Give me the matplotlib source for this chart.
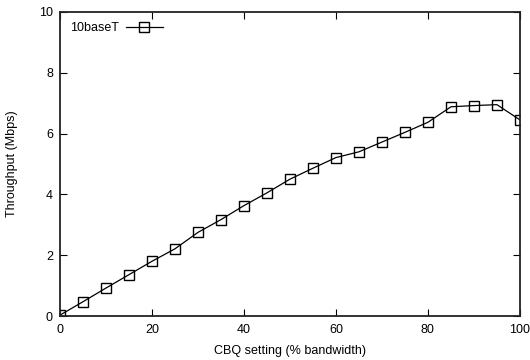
import matplotlib
matplotlib.use("Agg")
import matplotlib.pyplot as plt

# Data
cbq_setting = [0, 5, 10, 15, 20, 25, 30, 35, 40, 45, 50, 55, 60, 65, 70, 75, 80, 85, 90, 95, 100]
throughput = [0.03, 0.47, 0.92, 1.36, 1.80, 2.21, 2.75, 3.17, 3.63, 4.05, 4.50, 4.86, 5.21, 5.40,
              5.72, 6.04, 6.37, 6.88, 6.92, 6.95, 6.45]
series_label = "10baseT"

plt.rcParams['font.family'] = ['Liberation Sans', 'DejaVu Sans']
plt.rcParams['font.size'] = 9

fig = plt.figure(figsize=(5.3, 3.6), dpi=100)
ax = fig.add_axes([0.113, 0.122, 0.868, 0.845])

ax.plot(cbq_setting, throughput, color='black', linewidth=0.9, marker='s',
        markersize=7, markerfacecolor='none', markeredgecolor='black',
        markeredgewidth=1.0, label=series_label)

ax.set_xlim(0, 100)
ax.set_ylim(0, 10)
ax.set_xticks([0, 20, 40, 60, 80, 100])
ax.set_yticks([0, 2, 4, 6, 8, 10])
ax.tick_params(direction='in', length=5, width=0.8, top=True, right=True, labelsize=9)
ax.tick_params(axis='x', pad=6)
ax.tick_params(axis='y', pad=5)
for s in ax.spines.values():
    s.set_linewidth(1.3)
    s.set_color('#222222')

ax.set_xlabel('CBQ setting (% bandwidth)', fontsize=9, labelpad=6)
ax.set_ylabel('Throughput (Mbps)', fontsize=9, labelpad=15)

ax.legend(loc='upper left', frameon=False, handlelength=2.9, handletextpad=0.6,
          markerfirst=False, borderaxespad=0.3, borderpad=0.5, fontsize=9)

fig.savefig('out.png', dpi=100)
